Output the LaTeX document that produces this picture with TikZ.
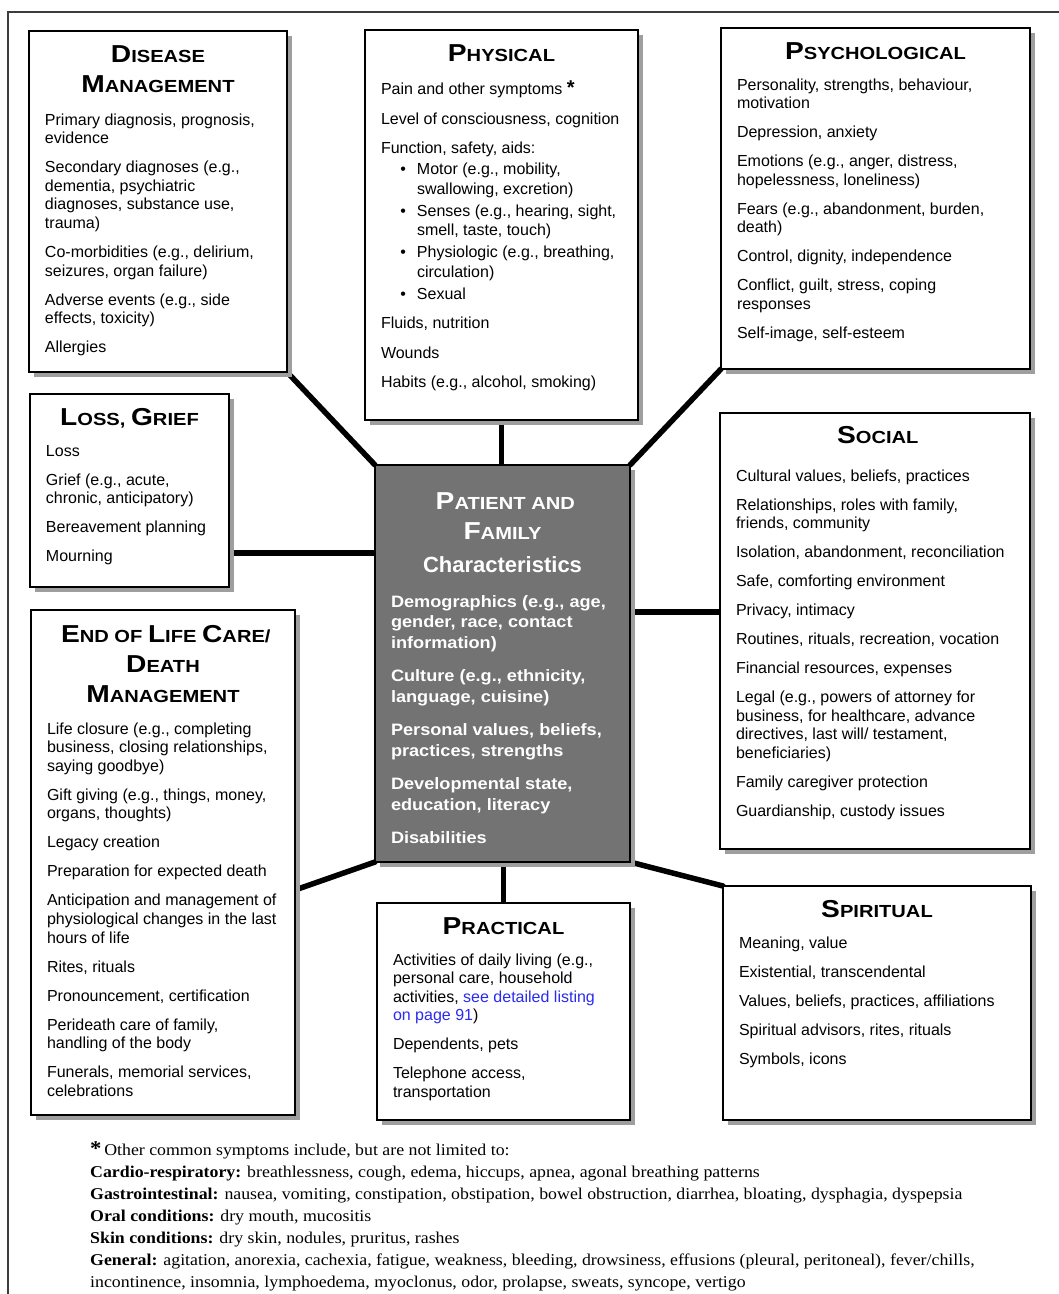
\documentclass[tikz,border=0pt]{standalone}
\usepackage{fontspec}
\setmainfont{Liberation Sans}
\newfontfamily\ttlfont[FakeStretch=1.15]{Liberation Sans}
\newfontfamily\ctrfont[FakeStretch=1.1]{Liberation Sans}
\newfontfamily\notefont[FakeStretch=1.08]{Liberation Serif}
\usetikzlibrary{shadows,calc}
\definecolor{centregray}{HTML}{737373}
\definecolor{linkblue}{HTML}{2B2BF0}
\definecolor{framegray}{HTML}{3C3C3C}
\pgfdeclarelayer{links}
\pgfsetlayers{links,main}

% small-caps style heading: large initial, smaller capitals
\newcommand\SC[2]{{\fontsize{24.5}{30}\selectfont #1}#2}
% heading block of a card (first baseline #1 below the top edge)
\newcommand\cardtitle[1][31pt]{\centering\ttlfont\bfseries\fontsize{17.5}{30}\selectfont\rule{0pt}{#1}}
% list of entries under the heading
\newcommand\cardbody[1][4pt]{\par\vspace{#1}\raggedright\leftskip=16pt\relax
  \normalfont\fontsize{16}{18.6}\selectfont\parskip=10.4pt\relax}
\newcommand\bulletitem{\leavevmode\llap{\textbullet\hspace{11pt}}}

\begin{document}
\begin{tikzpicture}[x=1pt,y=-1pt,
  card/.style={draw=black, line width=2.4pt, fill=white, inner sep=0pt, outer sep=0pt, anchor=north west,
    drop shadow={shadow xshift=5pt, shadow yshift=-5pt, opacity=1, fill=black!38, draw=none}},
  link/.style={line width=5.5pt, line cap=round}]
\useasboundingbox (0,0) rectangle (1059,1294);

% page frame
\draw[line width=1.6pt, framegray] (8,1294) -- (8,12) -- (1059,12);

% ---- cards ----
\node[card] (dis) at (29,31) {\parbox[c][341pt][t]{258pt}{\cardtitle
  \SC{D}{ISEASE}\\\SC{M}{ANAGEMENT}
  \cardbody
  Primary diagnosis, prognosis,\\evidence\par
  Secondary diagnoses (e.g.,\\dementia, psychiatric\\diagnoses, substance use,\\trauma)\par
  Co-morbidities (e.g., delirium,\\seizures, organ failure)\par
  Adverse events (e.g., side\\effects, toxicity)\par
  Allergies}};

\node[card] (phy) at (365,30) {\parbox[c][390pt][t]{273pt}{\cardtitle
  \SC{P}{HYSICAL}
  \cardbody\fontsize{16}{19.5}\selectfont\parskip=10pt\relax
  Pain and other symptoms {\bfseries\fontsize{20}{19.5}\selectfont*}\par
  Level of consciousness, cognition\par
  Function, safety, aids:\par
  {\leftskip=52pt\parskip=1.5pt
  \bulletitem Motor (e.g., mobility,\\swallowing, excretion)\par
  \parskip=2.5pt
  \bulletitem Senses (e.g., hearing, sight,\\smell, taste, touch)\par
  \bulletitem Physiologic (e.g., breathing,\\circulation)\par
  \bulletitem Sexual\par}
  Fluids, nutrition\par
  Wounds\par
  Habits (e.g., alcohol, smoking)}};

\node[card] (psy) at (721,28) {\parbox[c][341pt][t]{309pt}{\cardtitle
  \SC{P}{SYCHOLOGICAL}
  \cardbody[2pt]
  Personality, strengths, behaviour,\\motivation\par
  Depression, anxiety\par
  Emotions (e.g., anger, distress,\\hopelessness, loneliness)\par
  Fears (e.g., abandonment, burden,\\death)\par
  Control, dignity, independence\par
  Conflict, guilt, stress, coping\\responses\par
  Self-image, self-esteem}};

\node[card] (los) at (30,394) {\parbox[c][193pt][t]{199pt}{\cardtitle
  \SC{L}{OSS,} \SC{G}{RIEF}
  \cardbody[2pt]
  Loss\par
  Grief (e.g., acute,\\chronic, anticipatory)\par
  Bereavement planning\par
  Mourning}};

\node[card, fill=centregray, text=white] (pf) at (375,465) {\parbox[c][397pt][t]{255pt}{\cardtitle[44pt]
  \SC{P}{ATIENT AND}\\\SC{F}{AMILY}\par
  {\normalfont\bfseries\fontsize{22}{33}\selectfont Characteristics\par}
  \vspace{1.5pt}\raggedright\leftskip=16pt\relax
  \ctrfont\bfseries\fontsize{16.5}{20.5}\selectfont\parskip=13pt\relax
  Demographics (e.g., age,\\gender, race, contact\\information)\par
  Culture (e.g., ethnicity,\\language, cuisine)\par
  Personal values, beliefs,\\practices, strengths\par
  Developmental state,\\education, literacy\par
  Disabilities}};

\node[card] (soc) at (720,413) {\parbox[c][436pt][t]{310pt}{\cardtitle[30pt]
  \SC{S}{OCIAL}
  \cardbody[9pt]
  Cultural values, beliefs, practices\par
  Relationships, roles with family,\\friends, community\par
  Isolation, abandonment, reconciliation\par
  Safe, comforting environment\par
  Privacy, intimacy\par
  Routines, rituals, recreation, vocation\par
  Financial resources, expenses\par
  Legal (e.g., powers of attorney for\\business, for healthcare, advance\\directives, last will/ testament,\\beneficiaries)\par
  Family caregiver protection\par
  Guardianship, custody issues}};

\node[card] (eol) at (31,610) {\parbox[c][505pt][t]{264pt}{\cardtitle[32pt]
  \SC{E}{ND OF} \SC{L}{IFE} \SC{C}{ARE/}\\\SC{D}{EATH}\\\SC{M}{ANAGEMENT}
  \cardbody[3pt]
  Life closure (e.g., completing\\business, closing relationships,\\saying goodbye)\par
  Gift giving (e.g., things, money,\\organs, thoughts)\par
  Legacy creation\par
  Preparation for expected death\par
  Anticipation and management of\\physiological changes in the last\\hours of life\par
  Rites, rituals\par
  Pronouncement, certification\par
  Perideath care of family,\\handling of the body\par
  Funerals, memorial services,\\celebrations}};

\node[card] (pra) at (377,903) {\parbox[c][217pt][t]{253pt}{\cardtitle
  \SC{P}{RACTICAL}
  \cardbody[2pt]
  Activities of daily living (e.g.,\\personal care, household\\activities, \textcolor{linkblue}{see detailed listing}\\\textcolor{linkblue}{on page 91})\par
  Dependents, pets\par
  Telephone access,\\transportation}};

\node[card] (spi) at (723,886) {\parbox[c][234pt][t]{308pt}{\cardtitle
  \SC{S}{PIRITUAL}
  \cardbody[2pt]
  Meaning, value\par
  Existential, transcendental\par
  Values, beliefs, practices, affiliations\par
  Spiritual advisors, rites, rituals\par
  Symbols, icons}};

% ---- footnote on symptoms ----
\node[anchor=base west, inner sep=0pt] (note) at (90,1155) {\parbox[t]{965pt}{%
  \notefont\fontsize{16.5}{22}\selectfont\raggedright
  {\fontsize{21}{22}\selectfont\bfseries*}\,Other common symptoms include, but are not limited to:\\
  \textbf{Cardio-respiratory:} breathlessness, cough, edema, hiccups, apnea, agonal breathing patterns\\
  \textbf{Gastrointestinal:} nausea, vomiting, constipation, obstipation, bowel obstruction, diarrhea, bloating, dysphagia, dyspepsia\\
  \textbf{Oral conditions:} dry mouth, mucositis\\
  \textbf{Skin conditions:} dry skin, nodules, pruritus, rashes\\
  \textbf{General:} agitation, anorexia, cachexia, fatigue, weakness, bleeding, drowsiness, effusions (pleural, peritoneal), fever/chills,\\
  incontinence, insomnia, lymphoedema, myoclonus, odor, prolapse, sweats, syncope, vertigo}};

% ---- connectors to the central card ----
\coordinate (lgA) at ([yshift=34pt]los.south east);
\coordinate (scA) at ([yshift=19pt]soc.west);
\coordinate (elA) at ([yshift=-27.5pt]eol.east);
\begin{pgfonlayer}{links}
  \draw[link] (dis.south east) -- (pf.north west);
  \draw[link] (phy.south) -- (phy.south |- pf.north);
  \draw[link] (psy.south west) -- (pf.north east);
  \draw[link] (lgA) -- (lgA -| pf.west);
  \draw[link] (scA) -- (scA -| pf.east);
  \draw[link] (elA) -- (pf.south west);
  \draw[link] (pra.north) -- (pra.north |- pf.south);
  \draw[link] (spi.north west) -- (pf.south east);
\end{pgfonlayer}
\end{tikzpicture}
\end{document}
